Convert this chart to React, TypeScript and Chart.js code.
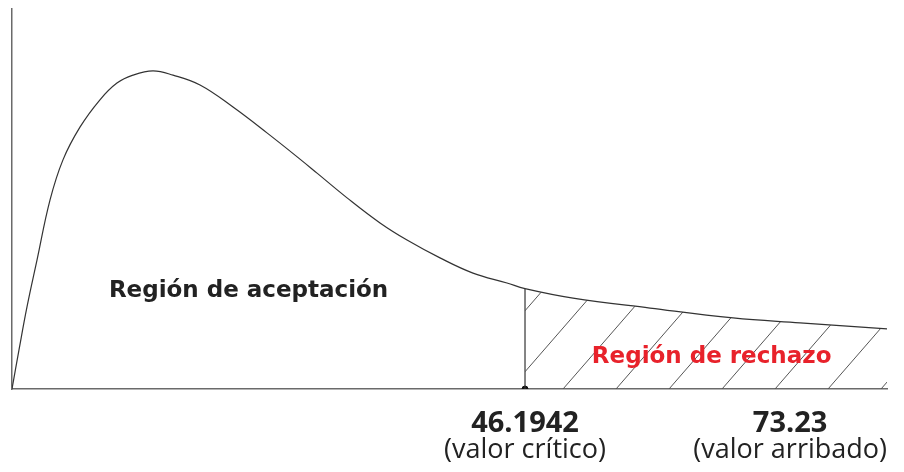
import React, { useEffect, useRef } from 'react';
import { Chart, registerables } from 'chart.js';

Chart.register(...registerables);

// Density curve (schematic chi-square statistic vs. density)
const curveX = [0, 0.63, 1.35, 2.25, 3.42, 4.59, 6.12, 7.92, 9.45, 10.89, 12.7, 14.5, 16.93, 19.9, 22.96, 25.93, 27.47, 30.17, 33.14, 35.57, 38.54, 41.51, 44.57, 46.1942, 50.52, 57.45, 64.93, 70.96, 78.79];
const curveY = [0, 0.103, 0.216, 0.339, 0.497, 0.603, 0.689, 0.761, 0.805, 0.826, 0.837, 0.826, 0.8, 0.742, 0.674, 0.605, 0.568, 0.503, 0.437, 0.392, 0.345, 0.305, 0.279, 0.264, 0.239, 0.213, 0.187, 0.174, 0.158];

const criticalValue = 46.1942;
const observedValue = 73.23;
const criticalLabel = ['46.1942', '(valor crítico)'];
const observedLabel = ['73.23', '(valor arribado)'];
const acceptLabel = 'Región de aceptación';
const rejectLabel = 'Región de rechazo';
// label anchors in data units
const acceptAnchor = { x: 21.3, y: 0.242 };
const rejectAnchor = { x: 63.0, y: 0.068 };

const X_MAX = 78.79;
const Y_MAX = 1;

function makeHatch(): CanvasPattern | string {
  const w = 53;
  const h = 61;
  const c = document.createElement('canvas');
  c.width = w;
  c.height = h;
  const g = c.getContext('2d');
  if (!g) return 'transparent';
  g.strokeStyle = '#555';
  g.lineWidth = 1;
  for (const dx of [-w, 0, w]) {
    g.beginPath();
    g.moveTo(dx - 2, h + 2 * (h / w));
    g.lineTo(dx + w + 2, -2 * (h / w));
    g.stroke();
  }
  const p = g.createPattern(c, 'repeat');
  return p || 'transparent';
}

const labelsPlugin = {
  id: 'labels',
  afterDraw(chart: any) {
    const ctx = chart.ctx as any;
    const xs = chart.scales.x;
    const ys = chart.scales.y;
    const area = chart.chartArea;
    ctx.save();
    ctx.textAlign = 'center';
    ctx.textBaseline = 'alphabetic';

    ctx.font = 'bold 23px "DejaVu Sans", sans-serif';
    ctx.fillStyle = '#222';
    ctx.fillText(acceptLabel, xs.getPixelForValue(acceptAnchor.x), ys.getPixelForValue(acceptAnchor.y));
    ctx.fillStyle = '#e8222b';
    ctx.fillText(rejectLabel, xs.getPixelForValue(rejectAnchor.x), ys.getPixelForValue(rejectAnchor.y));

    const f1 = 'bold 29px "Open Sans", sans-serif';
    const f2 = '27px "Open Sans", sans-serif';
    const drawPair = (value: number, lines: string[]) => {
      ctx.font = f1;
      const w1 = ctx.measureText(lines[0]).width;
      ctx.font = f2;
      const w2 = ctx.measureText(lines[1]).width;
      const half = Math.max(w1, w2) / 2;
      let cx = xs.getPixelForValue(value);
      if (cx + half > area.right) cx = area.right - half;
      ctx.fillStyle = '#222';
      ctx.font = f1;
      ctx.fillText(lines[0], cx, area.bottom + 43);
      ctx.font = f2;
      ctx.fillText(lines[1], cx, area.bottom + 69);
    };
    drawPair(criticalValue, criticalLabel);
    drawPair(observedValue, observedLabel);
    ctx.restore();
  },
};

export default function App() {
  const ref = useRef<HTMLCanvasElement>(null);
  useEffect(() => {
    if (!ref.current) return;
    const hatch = makeHatch();
    const curve = curveX.map((x, i) => ({ x, y: curveY[i] }));
    const critIdx = curveX.indexOf(criticalValue);
    const chart = new Chart(ref.current, {
      type: 'line',
      data: {
        datasets: [
          {
            data: curve,
            borderColor: '#333',
            borderWidth: 1.2,
            pointRadius: 0,
            tension: 0.4,
            fill: 'origin',
            backgroundColor: 'transparent',
            segment: {
              backgroundColor: (c: any) => (c.p0.parsed.x >= criticalValue ? hatch : 'transparent'),
            },
          } as any,
          {
            data: [
              { x: criticalValue, y: 0 },
              { x: criticalValue, y: curveY[critIdx] },
            ],
            borderColor: '#333',
            borderWidth: 1.2,
            pointRadius: 0,
            tension: 0,
            fill: false,
          },
          {
            type: 'scatter',
            data: [{ x: criticalValue, y: 0 }],
            backgroundColor: '#111',
            borderColor: '#111',
            pointRadius: 3,
          } as any,
        ],
      },
      options: {
        responsive: false,
        animation: false,
        devicePixelRatio: 1,
        layout: { padding: { left: 12, top: 9, right: 17, bottom: 83 } },
        plugins: { legend: { display: false }, tooltip: { enabled: false } },
        scales: {
          x: {
            type: 'linear',
            min: 0,
            max: X_MAX,
            grid: { display: false, drawTicks: false },
            ticks: { display: false },
            border: { display: true, color: '#6a6a6a', width: 1.5 },
          },
          y: {
            type: 'linear',
            min: 0,
            max: Y_MAX,
            grid: { display: false, drawTicks: false },
            ticks: { display: false },
            border: { display: true, color: '#6a6a6a', width: 1.5 },
          },
        },
      },
      plugins: [labelsPlugin],
    });
    return () => chart.destroy();
  }, []);
  return (
    <div style={{ position: 'fixed', left: 0, top: 0, width: 904, height: 472, background: '#fff' }}>
      <canvas ref={ref} width={904} height={472} />
    </div>
  );
}
